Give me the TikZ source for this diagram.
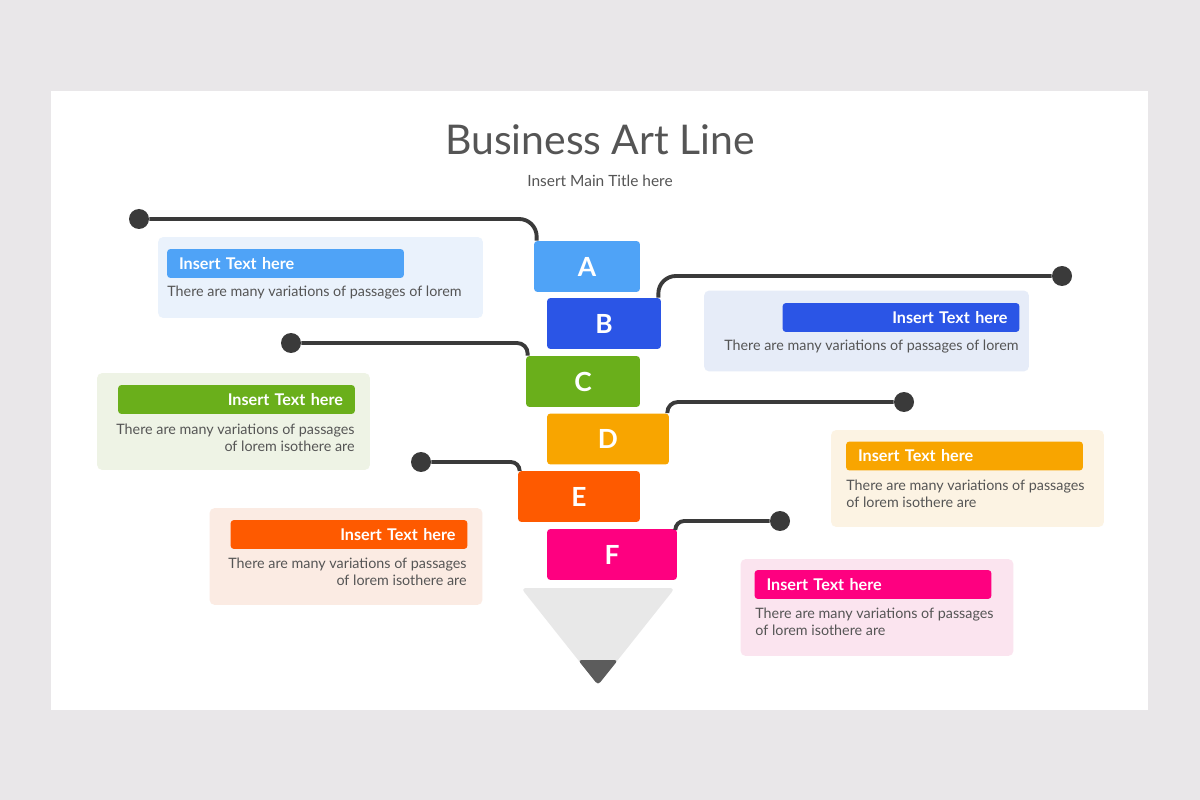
\documentclass[tikz,border=0pt]{standalone}
\usepackage{fontspec}
\setmainfont{Lato}
\usetikzlibrary{positioning}
\definecolor{bgc}{HTML}{E9E7E9}
\definecolor{wirec}{HTML}{3A3A3A}
\definecolor{txtc}{HTML}{555555}
\definecolor{cA}{HTML}{4FA3F7}
\definecolor{cB}{HTML}{2B55E6}
\definecolor{cC}{HTML}{6AAF1B}
\definecolor{cD}{HTML}{F8A500}
\definecolor{cE}{HTML}{FE5A00}
\definecolor{cF}{HTML}{FE0080}
\definecolor{pA}{HTML}{EAF2FC}
\definecolor{pB}{HTML}{E6ECF8}
\definecolor{pC}{HTML}{EEF3E5}
\definecolor{pD}{HTML}{FCF3E3}
\definecolor{pE}{HTML}{FBEBE3}
\definecolor{pF}{HTML}{FBE4EF}
\definecolor{funnelc}{HTML}{E8E8E8}
\definecolor{tipc}{HTML}{5C5C5C}
\begin{document}
\begin{tikzpicture}[x=0.02cm,y=-0.02cm,
	block/.style={rounded corners=2pt,inner sep=0pt,minimum height=1.02cm,text=white,font=\bfseries\fontsize{15}{15}\selectfont},
	panel/.style={rounded corners=3pt,inner sep=0pt},
	wide/.style={panel,minimum width=6.5cm,minimum height=1.62cm},
	tall/.style={panel,minimum width=5.46cm,minimum height=1.94cm},
	head/.style={rounded corners=2pt,inner ysep=0pt,inner xsep=0.24cm,text width=4.26cm,minimum height=0.58cm,text=white,font=\bfseries\fontsize{9.2}{10}\selectfont},
	body/.style={inner sep=0pt,text=txtc,font=\fontsize{8.15}{9.6}\selectfont},
	dot/.style={circle,fill=wirec,inner sep=0pt,minimum size=0.4cm},
	wire/.style={draw=wirec,line width=2.2pt}]

	\fill[bgc] (0,0) rectangle (1200,800);
	\useasboundingbox (0,0) rectangle (1200,800);
	\fill[white] (51,91) rectangle (1148,710);

	\node[text=txtc,font=\fontsize{23.3}{26}\selectfont] (title) at (600,140) {Business Art Line};
	\node[text=txtc,font=\fontsize{8.8}{10}\selectfont] (sub) at (600,181) {Insert Main Title here};

	\node[wide,fill=pA] (panA) at (320.5,277.5) {};
	\node[wide,fill=pB] (panB) at (866.5,331) {};
	\node[tall,fill=pC] (panC) at (233.5,421.5) {};
	\node[tall,fill=pD] (panD) at (967.5,478.5) {};
	\node[tall,fill=pE] (panE) at (346,556.5) {};
	\node[tall,fill=pF] (panF) at (877,607.5) {};

	\node[head,fill=cA,align=left] (hA) at (285.5,263.5) {Insert Text here};
	\node[head,fill=cB,align=right] (hB) at (901,317.5) {Insert Text here};
	\node[head,fill=cC,align=right] (hC) at (236.5,399.5) {Insert Text here};
	\node[head,fill=cD,align=left] (hD) at (964.5,456) {Insert Text here};
	\node[head,fill=cE,align=right] (hE) at (349,534.5) {Insert Text here};
	\node[head,fill=cF,align=left] (hF) at (873,584.5) {Insert Text here};

	\node[body,anchor=west] (tA) at (167,293) {There are many variations of passages of lorem};
	\node[body,anchor=east] (tB) at (1019,347) {There are many variations of passages of lorem};
	\node[body,anchor=east,align=right] (tC) at (355,437.5) {There are many variations of passages\\of lorem isothere are};
	\node[body,anchor=west,align=left] (tD) at (846,494) {There are many variations of passages\\of lorem isothere are};
	\node[body,anchor=east,align=right] (tE) at (467,572) {There are many variations of passages\\of lorem isothere are};
	\node[body,anchor=west,align=left] (tF) at (755,622) {There are many variations of passages\\of lorem isothere are};

	\fill[funnelc,rounded corners=3pt] (521,588) -- (675,588) -- (598,685) -- cycle;
	\fill[tipc,rounded corners=2pt] (578,660) -- (618,660) -- (598,685) -- cycle;

	\node[block,fill=cA,minimum width=2.12cm] (A) at (587,266.5) {A};
	\node[block,fill=cB,minimum width=2.28cm] (B) at (604,323.5) {B};
	\node[block,fill=cC,minimum width=2.28cm] (C) at (583,381.5) {C};
	\node[block,fill=cD,minimum width=2.44cm] (D) at (608,439) {D};
	\node[block,fill=cE,minimum width=2.44cm] (E) at (579,496.5) {E};
	\node[block,fill=cF,minimum width=2.6cm] (F) at (612,554.5) {F};

	\node[dot] (dA) at (139,219) {};
	\node[dot] (dB) at (1062,276) {};
	\node[dot] (dC) at (291,343) {};
	\node[dot] (dD) at (904,402) {};
	\node[dot] (dE) at (421,462) {};
	\node[dot] (dF) at (780,521) {};

	\draw[wire,rounded corners=10pt] (dA) -| ([xshift=0.06cm]A.north west);
	\draw[wire,rounded corners=10pt] ([xshift=-0.06cm]B.north east) |- (dB);
	\draw[wire,rounded corners=6pt] (dC) -| ([xshift=0.04cm]C.north west);
	\draw[wire,rounded corners=6pt] ([xshift=-0.04cm]D.north east) |- (dD);
	\draw[wire,rounded corners=5pt] (dE) -| ([xshift=0.04cm]E.north west);
	\draw[wire,rounded corners=5pt] ([xshift=-0.04cm]F.north east) |- (dF);
\end{tikzpicture}
\end{document}
